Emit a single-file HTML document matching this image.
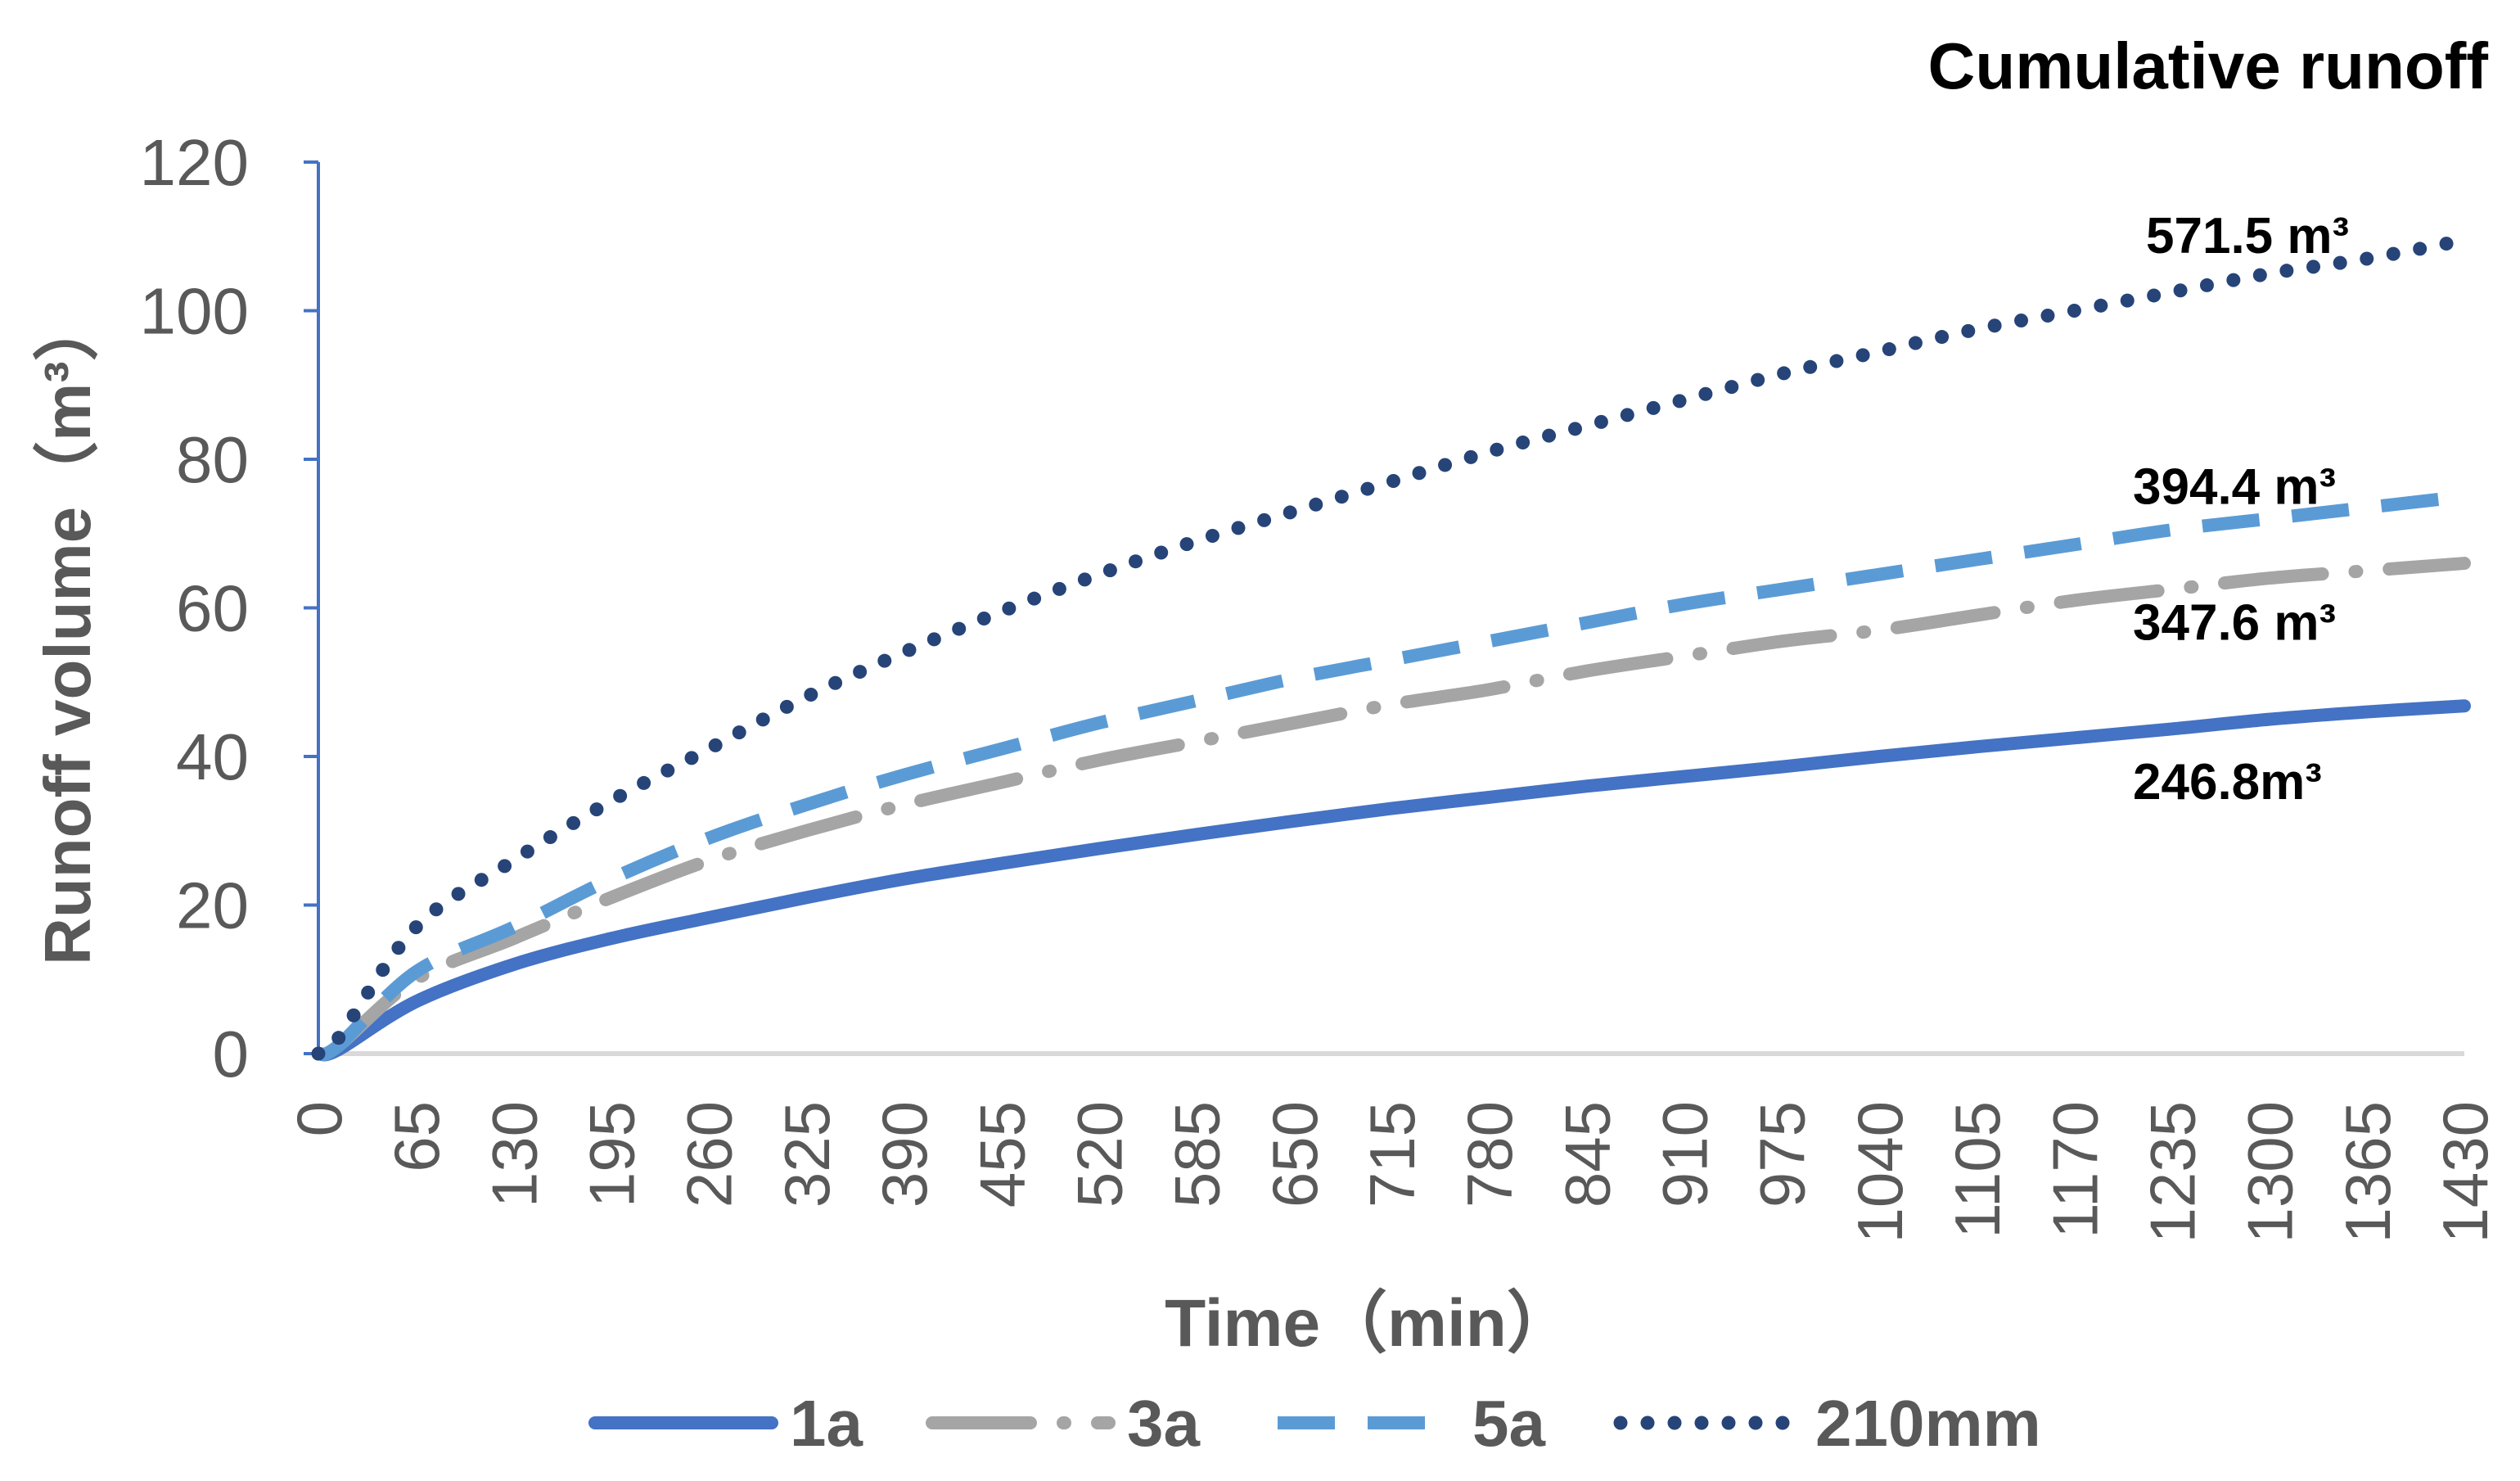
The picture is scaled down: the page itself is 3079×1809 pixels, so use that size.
<!DOCTYPE html>
<html><head><meta charset="utf-8"><style>
html,body{margin:0;padding:0;background:#fff;}
svg{display:block;font-family:"Liberation Sans",sans-serif;}
</style></head><body>
<svg id="chart" width="3079" height="1809" viewBox="0 0 3079 1809">
<text x="3040" y="108" text-anchor="end" font-size="80" font-weight="bold" fill="#000">Cumulative runoff</text>
<g id="grid"></g>
<g id="series"></g>
<g id="labels"></g>
<text transform="translate(110,770) rotate(-90)" text-anchor="middle" font-size="80" font-weight="bold" fill="#595959">Runoff volume（m³）</text>
<text x="1673" y="1644" text-anchor="middle" font-size="82" font-weight="bold" fill="#595959">Time（min）</text>
<g id="legend"></g>
</svg>
<script>
const times = [0,13,65,130,195,260,325,390,455,520,585,650,715,780,845,910,975,1040,1105,1170,1235,1300,1365,1430];
const s1a =   [0,0.5,7,12,15.5,18.3,21,23.5,25.6,27.6,29.5,31.3,33,34.5,36,37.3,38.6,40,41.3,42.5,43.7,45,46,46.8];
const s3a =   [0,1,10,15.5,21,26,30,33.5,36.5,39.5,42,44.5,47,49,51.5,53.5,55.5,57,59,61,62.5,64,65,66];
const s5a =   [0,1,11,17,23.5,29,33.5,37.5,41,44.5,47.5,50.5,53,55.5,58,60.5,62.5,64.5,66.5,68.5,70.5,72,73.5,75];
const s210 =  [0,2,17,26,34,41,48,54,59.5,64.5,69,73,77,81,84.5,88,91.5,94.5,97.5,100,102.5,105,107,109.5];
const seriesNames = ["1a","3a","5a","210mm"];
const annotations = ["246.8m³","347.6 m³","394.4 m³","571.5 m³"];
const annotationValues = [36.5, 57.9, 76.2, 110];
const yTicks = [0,20,40,60,80,100,120];
const xTicks = [0,65,130,195,260,325,390,455,520,585,650,715,780,845,910,975,1040,1105,1170,1235,1300,1365,1430];

const X0=389,X1=3011,Y0=1287,Y1=198;
const xs = t => X0 + (t/1430)*(X1-X0);
const ys = v => Y0 - (v/120)*(Y0-Y1);
const NS="http://www.w3.org/2000/svg";
function mk(tag,attrs,parent){const e=document.createElementNS(NS,tag);for(const k in attrs)e.setAttribute(k,attrs[k]);parent.appendChild(e);return e;}
const grid=document.getElementById('grid'),ser=document.getElementById('series'),lab=document.getElementById('labels'),leg=document.getElementById('legend');

let base=mk('line',{x1:X0,y1:Y0,x2:X1,y2:Y0,stroke:'#d9d9d9','stroke-width':6},grid);


let yax=mk('line',{x1:X0,y1:Y1,x2:X0,y2:Y0,stroke:'#4472C4','stroke-width':4},grid);


yTicks.forEach(v=>{
  let tk=mk('line',{x1:X0-18,y1:ys(v),x2:X0,y2:ys(v),stroke:'#4472C4','stroke-width':4},grid);
  
  
  let t=mk('text',{x:304,y:ys(v)+28,'text-anchor':'end','font-size':80,fill:'#595959'},lab);
  t.textContent=v;
  
  
});
xTicks.forEach(v=>{
  let t=mk('text',{transform:`translate(${xs(v)+28},1345) rotate(-90)`,'text-anchor':'end','font-size':78,fill:'#595959'},lab);
  t.textContent=v;
  
  
});

const styles=[
 {c:'#4472C4',w:16,d:'',cap:'round'},
 {c:'#A5A5A5',w:16,d:'120 40 2 40',cap:'round'},
 {c:'#5B9BD5',w:16,d:'70 40',cap:'butt'},
 {c:'#264478',w:17,d:'0 33',cap:'round'}];
const data=[s1a,s3a,s5a,s210];
data.forEach((arr,i)=>{
  const st=styles[i];
  const pts=arr.map((v,j)=>[xs(times[j]),ys(v)]);
  let d='M'+pts[0][0]+','+pts[0][1];
  for(let j=0;j<pts.length-1;j++){
    const p0=pts[j-1]||pts[j],p1=pts[j],p2=pts[j+1],p3=pts[j+2]||p2;
    const c1=[p1[0]+(p2[0]-p0[0])/6,p1[1]+(p2[1]-p0[1])/6];
    const c2=[p2[0]-(p3[0]-p1[0])/6,p2[1]-(p3[1]-p1[1])/6];
    d+=`C${c1[0]},${c1[1]} ${c2[0]},${c2[1]} ${p2[0]},${p2[1]}`;
  }
  let p=mk('path',{d:d,fill:'none',stroke:st.c,'stroke-width':st.w,'stroke-dasharray':st.d,'stroke-linecap':st.cap,'stroke-linejoin':'round'},ser);
  
  
  let a=mk('text',{x:(i===3?2622:2606),y:ys(annotationValues[i])+20,'font-size':62,'font-weight':'bold',fill:'#000'},lab);
  a.textContent=annotations[i];
  
  
});
const legX=[727,1139,1561,1980];
seriesNames.forEach((n,i)=>{
  const st=styles[i];
  let g=mk('g',{},leg);
  
  
  mk('line',{x1:legX[i],y1:1738,x2:legX[i]+216,y2:1738,stroke:st.c,'stroke-width':st.w,'stroke-dasharray':st.d,'stroke-linecap':st.cap},g);
  let t=mk('text',{x:legX[i]+238,y:1766,'font-size':80,'font-weight':'bold',fill:'#595959'},g);
  t.textContent=n;
});
</script>
</body></html>
